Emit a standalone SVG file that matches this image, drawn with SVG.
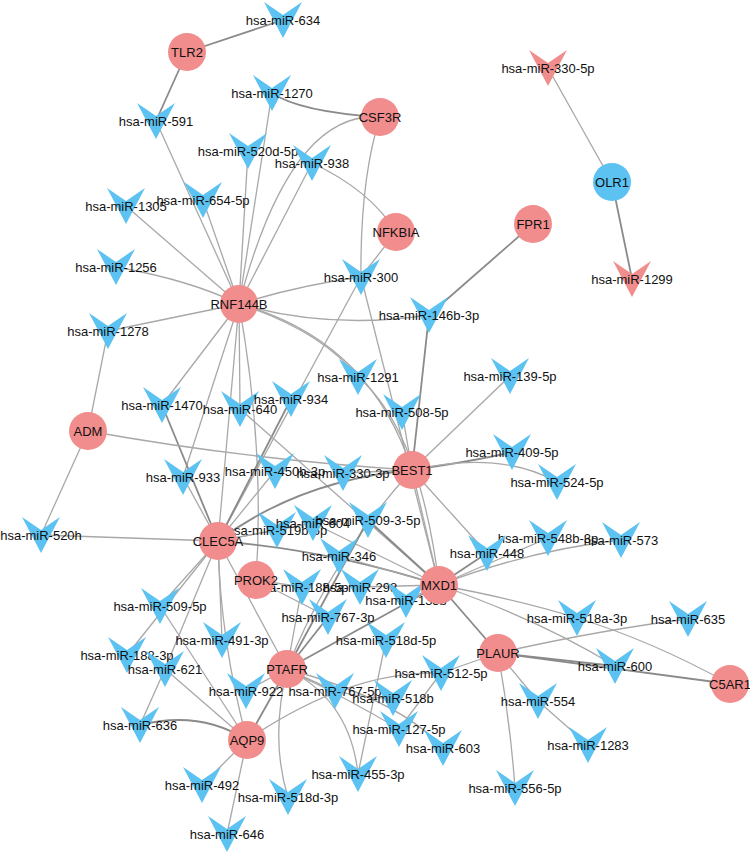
<svg xmlns="http://www.w3.org/2000/svg" xmlns:xlink="http://www.w3.org/1999/xlink" width="750" height="854" viewBox="0 0 750 854">
<style>
.l{stroke:#a8a8a8;stroke-width:1.3;fill:none}
.d{stroke:#8a8a8a;stroke-width:1.8;fill:none}
.g{fill:#F28D8D}
.b{fill:#5BC2F2}
.p{fill:#F28D8D}
text{font-family:"Liberation Sans",Arial,sans-serif;font-size:13px;fill:#111;text-anchor:middle;dominant-baseline:central}
</style>
<defs>
<path id="v" d="M-19,-18 L0,-5 L19,-18 L0,18 Z"/>
</defs>
<rect width="750" height="854" fill="#fff"/>
<g id="edges">
<line class="d" x1="187" y1="52" x2="283" y2="20"/>
<line class="d" x1="187" y1="52" x2="156" y2="121"/>
<line class="l" x1="156" y1="121" x2="239" y2="304"/>
<path class="d" d="M272,93 Q300,112 380,117"/>
<path class="l" d="M272,93 Q255,200 239,304"/>
<path class="l" d="M380,117 Q290,110 239,304"/>
<path class="l" d="M380,117 Q360,180 361,277"/>
<path class="l" d="M312,163 Q370,190 396,232"/>
<line class="l" x1="312" y1="163" x2="239" y2="304"/>
<line class="l" x1="396" y1="232" x2="361" y2="277"/>
<line class="l" x1="248" y1="151" x2="239" y2="304"/>
<line class="l" x1="203" y1="200" x2="239" y2="304"/>
<line class="l" x1="126" y1="206" x2="239" y2="304"/>
<path class="l" d="M116,267 Q190,280 239,304"/>
<line class="l" x1="108" y1="331" x2="239" y2="304"/>
<line class="l" x1="108" y1="331" x2="88" y2="431"/>
<path class="l" d="M361,277 Q300,285 239,304"/>
<path class="l" d="M429,315 Q330,330 239,304"/>
<line class="d" x1="429" y1="315" x2="533" y2="224"/>
<line class="d" x1="429" y1="315" x2="412" y2="470"/>
<path class="l" d="M239,304 Q320,330 358,377"/>
<path class="l" d="M239,304 Q370,340 412,470"/>
<line class="l" x1="361" y1="277" x2="439" y2="585"/>
<line class="l" x1="361" y1="277" x2="218" y2="541"/>
<line class="l" x1="239" y1="304" x2="162" y2="405"/>
<line class="l" x1="239" y1="304" x2="183" y2="477"/>
<line class="l" x1="239" y1="304" x2="240" y2="409"/>
<line class="l" x1="239" y1="304" x2="218" y2="541"/>
<path class="l" d="M239,304 Q265,450 256,580"/>
<line class="d" x1="162" y1="405" x2="218" y2="541"/>
<line class="d" x1="291" y1="399" x2="218" y2="541"/>
<line class="l" x1="240" y1="409" x2="439" y2="585"/>
<path class="l" d="M88,431 Q250,460 412,470"/>
<line class="l" x1="88" y1="431" x2="41" y2="535"/>
<line class="l" x1="41" y1="535" x2="218" y2="541"/>
<line class="l" x1="183" y1="477" x2="218" y2="541"/>
<path class="l" d="M358,377 Q420,430 439,585"/>
<line class="l" x1="402" y1="412" x2="412" y2="470"/>
<line class="l" x1="510" y1="376" x2="412" y2="470"/>
<path class="d" d="M412,470 Q480,460 512,452"/>
<path class="l" d="M412,470 Q500,450 557,482"/>
<line class="l" x1="412" y1="470" x2="487" y2="553"/>
<path class="d" d="M412,470 Q300,480 218,541"/>
<line class="l" x1="412" y1="470" x2="439" y2="585"/>
<line class="l" x1="412" y1="470" x2="343" y2="473"/>
<path class="l" d="M412,470 Q330,560 287,669"/>
<line class="d" x1="439" y1="585" x2="487" y2="553"/>
<path class="l" d="M439,585 Q530,550 621,540"/>
<line class="l" x1="439" y1="585" x2="548" y2="538"/>
<path class="l" d="M439,585 Q520,600 577,618"/>
<path class="l" d="M439,585 Q540,620 615,666"/>
<line class="d" x1="439" y1="585" x2="498" y2="653"/>
<line class="d" x1="439" y1="585" x2="287" y2="669"/>
<line class="l" x1="439" y1="585" x2="406" y2="600"/>
<path class="d" d="M439,585 Q330,550 218,541"/>
<line class="d" x1="439" y1="585" x2="368" y2="520"/>
<line class="l" x1="439" y1="585" x2="339" y2="556"/>
<line class="l" x1="439" y1="585" x2="360" y2="587"/>
<line class="l" x1="439" y1="585" x2="313" y2="523"/>
<line class="l" x1="498" y1="653" x2="441" y2="673"/>
<line class="d" x1="498" y1="653" x2="615" y2="666"/>
<line class="d" x1="498" y1="653" x2="730" y2="684"/>
<line class="l" x1="498" y1="653" x2="538" y2="701"/>
<path class="l" d="M498,653 Q510,720 515,788"/>
<path class="l" d="M498,653 Q600,630 688,619"/>
<line class="l" x1="538" y1="701" x2="588" y2="745"/>
<path class="l" d="M730,684 Q650,640 577,618"/>
<line class="d" x1="287" y1="669" x2="328" y2="617"/>
<line class="l" x1="287" y1="669" x2="302" y2="587"/>
<line class="l" x1="287" y1="669" x2="335" y2="691"/>
<path class="l" d="M287,669 Q340,700 393,698"/>
<path class="l" d="M287,669 Q350,700 399,729"/>
<path class="l" d="M287,669 Q350,700 358,774"/>
<path class="l" d="M287,669 Q270,740 288,797"/>
<line class="l" x1="287" y1="669" x2="246" y2="691"/>
<line class="d" x1="287" y1="669" x2="247" y2="740"/>
<line class="l" x1="287" y1="669" x2="218" y2="541"/>
<line class="d" x1="287" y1="669" x2="368" y2="520"/>
<path class="l" d="M287,669 Q400,700 443,748"/>
<path class="d" d="M247,740 Q200,710 140,725"/>
<line class="l" x1="247" y1="740" x2="202" y2="785"/>
<line class="l" x1="247" y1="740" x2="227" y2="834"/>
<line class="l" x1="247" y1="740" x2="165" y2="669"/>
<path class="l" d="M247,740 Q220,640 218,541"/>
<path class="l" d="M247,740 Q350,670 441,673"/>
<line class="l" x1="218" y1="541" x2="160" y2="606"/>
<line class="l" x1="218" y1="541" x2="127" y2="655"/>
<line class="l" x1="218" y1="541" x2="222" y2="640"/>
<line class="l" x1="218" y1="541" x2="165" y2="669"/>
<line class="l" x1="218" y1="541" x2="277" y2="530"/>
<line class="l" x1="218" y1="541" x2="275" y2="471"/>
<line class="l" x1="218" y1="541" x2="313" y2="523"/>
<line class="l" x1="256" y1="580" x2="302" y2="587"/>
<line class="l" x1="256" y1="580" x2="328" y2="617"/>
<line class="l" x1="160" y1="606" x2="247" y2="740"/>
<line class="l" x1="165" y1="669" x2="140" y2="725"/>
<line class="l" x1="399" y1="729" x2="441" y2="673"/>
<line class="l" x1="386" y1="640" x2="358" y2="774"/>
<line class="l" x1="612" y1="182" x2="548" y2="68"/>
<line class="d" x1="612" y1="182" x2="632" y2="279"/>
</g>
<g id="n-hsa-miR-634"><use href="#v" x="283" y="20" class="b"/><text x="283" y="20">hsa-miR-634</text></g>
<g id="n-hsa-miR-330-5p"><use href="#v" x="548" y="68" class="p"/><text x="548" y="68">hsa-miR-330-5p</text></g>
<g id="n-hsa-miR-1270"><use href="#v" x="272" y="93" class="b"/><text x="272" y="93">hsa-miR-1270</text></g>
<g id="n-hsa-miR-591"><use href="#v" x="156" y="121" class="b"/><text x="156" y="121">hsa-miR-591</text></g>
<g id="n-hsa-miR-520d-5p"><use href="#v" x="248" y="151" class="b"/><text x="248" y="151">hsa-miR-520d-5p</text></g>
<g id="n-hsa-miR-938"><use href="#v" x="312" y="163" class="b"/><text x="312" y="163">hsa-miR-938</text></g>
<g id="n-hsa-miR-1305"><use href="#v" x="126" y="206" class="b"/><text x="126" y="206">hsa-miR-1305</text></g>
<g id="n-hsa-miR-654-5p"><use href="#v" x="203" y="200" class="b"/><text x="203" y="200">hsa-miR-654-5p</text></g>
<g id="n-hsa-miR-1256"><use href="#v" x="116" y="267" class="b"/><text x="116" y="267">hsa-miR-1256</text></g>
<g id="n-hsa-miR-300"><use href="#v" x="361" y="277" class="b"/><text x="361" y="277">hsa-miR-300</text></g>
<g id="n-hsa-miR-1299"><use href="#v" x="632" y="279" class="p"/><text x="632" y="279">hsa-miR-1299</text></g>
<g id="n-hsa-miR-146b-3p"><use href="#v" x="429" y="315" class="b"/><text x="429" y="315">hsa-miR-146b-3p</text></g>
<g id="n-hsa-miR-1278"><use href="#v" x="108" y="331" class="b"/><text x="108" y="331">hsa-miR-1278</text></g>
<g id="n-hsa-miR-1291"><use href="#v" x="358" y="377" class="b"/><text x="358" y="377">hsa-miR-1291</text></g>
<g id="n-hsa-miR-139-5p"><use href="#v" x="510" y="376" class="b"/><text x="510" y="376">hsa-miR-139-5p</text></g>
<g id="n-hsa-miR-1470"><use href="#v" x="162" y="405" class="b"/><text x="162" y="405">hsa-miR-1470</text></g>
<g id="n-hsa-miR-640"><use href="#v" x="240" y="409" class="b"/><text x="240" y="409">hsa-miR-640</text></g>
<g id="n-hsa-miR-934"><use href="#v" x="291" y="399" class="b"/><text x="291" y="399">hsa-miR-934</text></g>
<g id="n-hsa-miR-508-5p"><use href="#v" x="402" y="412" class="b"/><text x="402" y="412">hsa-miR-508-5p</text></g>
<g id="n-hsa-miR-409-5p"><use href="#v" x="512" y="452" class="b"/><text x="512" y="452">hsa-miR-409-5p</text></g>
<g id="n-hsa-miR-933"><use href="#v" x="183" y="477" class="b"/><text x="183" y="477">hsa-miR-933</text></g>
<g id="n-hsa-miR-450b-3p"><use href="#v" x="275" y="471" class="b"/><text x="275" y="471">hsa-miR-450b-3p</text></g>
<g id="n-hsa-miR-330-3p"><use href="#v" x="343" y="473" class="b"/><text x="343" y="473">hsa-miR-330-3p</text></g>
<g id="n-hsa-miR-524-5p"><use href="#v" x="557" y="482" class="b"/><text x="557" y="482">hsa-miR-524-5p</text></g>
<g id="n-hsa-miR-520h"><use href="#v" x="41" y="535" class="b"/><text x="41" y="535">hsa-miR-520h</text></g>
<g id="n-hsa-miR-519b-5p"><use href="#v" x="277" y="530" class="b"/><text x="277" y="530">hsa-miR-519b-5p</text></g>
<g id="n-hsa-miR-604"><use href="#v" x="313" y="523" class="b"/><text x="313" y="523">hsa-miR-604</text></g>
<g id="n-hsa-miR-509-3-5p"><use href="#v" x="368" y="520" class="b"/><text x="368" y="520">hsa-miR-509-3-5p</text></g>
<g id="n-hsa-miR-548b-3p"><use href="#v" x="548" y="538" class="b"/><text x="548" y="538">hsa-miR-548b-3p</text></g>
<g id="n-hsa-miR-573"><use href="#v" x="621" y="540" class="b"/><text x="621" y="540">hsa-miR-573</text></g>
<g id="n-hsa-miR-448"><use href="#v" x="487" y="553" class="b"/><text x="487" y="553">hsa-miR-448</text></g>
<g id="n-hsa-miR-346"><use href="#v" x="339" y="556" class="b"/><text x="339" y="556">hsa-miR-346</text></g>
<g id="n-hsa-miR-188-5p"><use href="#v" x="302" y="587" class="b"/><text x="302" y="587">hsa-miR-188-5p</text></g>
<g id="n-hsa-miR-298"><use href="#v" x="360" y="587" class="b"/><text x="360" y="587">hsa-miR-298</text></g>
<g id="n-hsa-miR-133b"><use href="#v" x="406" y="600" class="b"/><text x="406" y="600">hsa-miR-133b</text></g>
<g id="n-hsa-miR-509-5p"><use href="#v" x="160" y="606" class="b"/><text x="160" y="606">hsa-miR-509-5p</text></g>
<g id="n-hsa-miR-491-3p"><use href="#v" x="222" y="640" class="b"/><text x="222" y="640">hsa-miR-491-3p</text></g>
<g id="n-hsa-miR-767-3p"><use href="#v" x="328" y="617" class="b"/><text x="328" y="617">hsa-miR-767-3p</text></g>
<g id="n-hsa-miR-518d-5p"><use href="#v" x="386" y="640" class="b"/><text x="386" y="640">hsa-miR-518d-5p</text></g>
<g id="n-hsa-miR-518a-3p"><use href="#v" x="577" y="618" class="b"/><text x="577" y="618">hsa-miR-518a-3p</text></g>
<g id="n-hsa-miR-635"><use href="#v" x="688" y="619" class="b"/><text x="688" y="619">hsa-miR-635</text></g>
<g id="n-hsa-miR-188-3p"><use href="#v" x="127" y="655" class="b"/><text x="127" y="655">hsa-miR-188-3p</text></g>
<g id="n-hsa-miR-621"><use href="#v" x="165" y="669" class="b"/><text x="165" y="669">hsa-miR-621</text></g>
<g id="n-hsa-miR-512-5p"><use href="#v" x="441" y="673" class="b"/><text x="441" y="673">hsa-miR-512-5p</text></g>
<g id="n-hsa-miR-922"><use href="#v" x="246" y="691" class="b"/><text x="246" y="691">hsa-miR-922</text></g>
<g id="n-hsa-miR-767-5p"><use href="#v" x="335" y="691" class="b"/><text x="335" y="691">hsa-miR-767-5p</text></g>
<g id="n-hsa-miR-600"><use href="#v" x="615" y="666" class="b"/><text x="615" y="666">hsa-miR-600</text></g>
<g id="n-hsa-miR-518b"><use href="#v" x="393" y="698" class="b"/><text x="393" y="698">hsa-miR-518b</text></g>
<g id="n-hsa-miR-636"><use href="#v" x="140" y="725" class="b"/><text x="140" y="725">hsa-miR-636</text></g>
<g id="n-hsa-miR-554"><use href="#v" x="538" y="701" class="b"/><text x="538" y="701">hsa-miR-554</text></g>
<g id="n-hsa-miR-127-5p"><use href="#v" x="399" y="729" class="b"/><text x="399" y="729">hsa-miR-127-5p</text></g>
<g id="n-hsa-miR-1283"><use href="#v" x="588" y="745" class="b"/><text x="588" y="745">hsa-miR-1283</text></g>
<g id="n-hsa-miR-603"><use href="#v" x="443" y="748" class="b"/><text x="443" y="748">hsa-miR-603</text></g>
<g id="n-hsa-miR-455-3p"><use href="#v" x="358" y="774" class="b"/><text x="358" y="774">hsa-miR-455-3p</text></g>
<g id="n-hsa-miR-492"><use href="#v" x="202" y="785" class="b"/><text x="202" y="785">hsa-miR-492</text></g>
<g id="n-hsa-miR-518d-3p"><use href="#v" x="288" y="797" class="b"/><text x="288" y="797">hsa-miR-518d-3p</text></g>
<g id="n-hsa-miR-556-5p"><use href="#v" x="515" y="788" class="b"/><text x="515" y="788">hsa-miR-556-5p</text></g>
<g id="n-hsa-miR-646"><use href="#v" x="227" y="834" class="b"/><text x="227" y="834">hsa-miR-646</text></g>
<g id="n-TLR2"><circle cx="187" cy="52" r="19" class="g"/><text x="187" y="52">TLR2</text></g>
<g id="n-CSF3R"><circle cx="380" cy="117" r="19" class="g"/><text x="380" y="117">CSF3R</text></g>
<g id="n-NFKBIA"><circle cx="396" cy="232" r="19" class="g"/><text x="396" y="232">NFKBIA</text></g>
<g id="n-FPR1"><circle cx="533" cy="224" r="19" class="g"/><text x="533" y="224">FPR1</text></g>
<g id="n-OLR1"><circle cx="612" cy="182" r="19" class="b"/><text x="612" y="182">OLR1</text></g>
<g id="n-RNF144B"><circle cx="239" cy="304" r="19" class="g"/><text x="239" y="304">RNF144B</text></g>
<g id="n-ADM"><circle cx="88" cy="431" r="19" class="g"/><text x="88" y="431">ADM</text></g>
<g id="n-BEST1"><circle cx="412" cy="470" r="19" class="g"/><text x="412" y="470">BEST1</text></g>
<g id="n-CLEC5A"><circle cx="218" cy="541" r="19" class="g"/><text x="218" y="541">CLEC5A</text></g>
<g id="n-PROK2"><circle cx="256" cy="580" r="19" class="g"/><text x="256" y="580">PROK2</text></g>
<g id="n-MXD1"><circle cx="439" cy="585" r="19" class="g"/><text x="439" y="585">MXD1</text></g>
<g id="n-PTAFR"><circle cx="287" cy="669" r="19" class="g"/><text x="287" y="669">PTAFR</text></g>
<g id="n-PLAUR"><circle cx="498" cy="653" r="19" class="g"/><text x="498" y="653">PLAUR</text></g>
<g id="n-AQP9"><circle cx="247" cy="740" r="19" class="g"/><text x="247" y="740">AQP9</text></g>
<g id="n-C5AR1"><circle cx="730" cy="684" r="19" class="g"/><text x="730" y="684">C5AR1</text></g>
</svg>
